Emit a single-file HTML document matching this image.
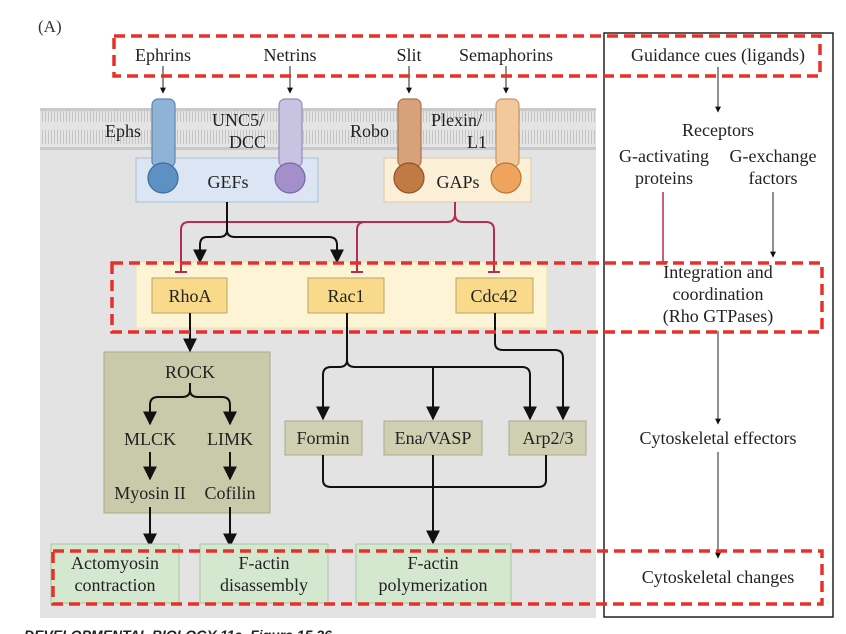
<!DOCTYPE html>
<html><head><meta charset="utf-8"><style>
html,body{margin:0;padding:0;background:#fff;}
svg{display:block;font-family:"Liberation Serif",serif;}
</style></head><body>
<svg width="846" height="634" viewBox="0 0 846 634" xmlns="http://www.w3.org/2000/svg">
<defs>
<pattern id="mem" width="3" height="42" patternUnits="userSpaceOnUse">
<rect width="3" height="42" fill="#e4e4e4"/>
<rect x="0" y="4" width="1" height="14" fill="#c4c4c4"/>
<rect x="0" y="24" width="1" height="14" fill="#c4c4c4"/>
</pattern>
<marker id="ah" viewBox="0 0 10 10" refX="9" refY="5" markerWidth="7" markerHeight="7" orient="auto"><path d="M0,0 L10,5 L0,10 z" fill="#111"/></marker>
<marker id="as" viewBox="0 0 10 10" refX="9" refY="5" markerWidth="6" markerHeight="6" orient="auto"><path d="M0,0 L10,5 L0,10 z" fill="#111"/></marker>
</defs>
<text x="38" y="32" font-size="17" fill="#333">(A)</text>
<rect x="40" y="108" width="556" height="510" fill="#e3e3e3"/>
<rect x="40" y="108" width="556" height="42" fill="url(#mem)"/>
<rect x="40" y="108" width="556" height="3" fill="#c9c9c9"/>
<rect x="40" y="147" width="556" height="3" fill="#c9c9c9"/>
<rect x="136" y="158" width="182" height="44" fill="#dbe5f3" stroke="#a9bfd9"/>
<rect x="384" y="158" width="147" height="44" fill="#fbefd8" stroke="#dcc9a6"/>
<text x="228" y="188" font-size="18" text-anchor="middle" fill="#222">GEFs</text>
<text x="458" y="188" font-size="18" text-anchor="middle" fill="#222">GAPs</text>
<g stroke-width="1.2">
<rect x="152" y="99" width="23" height="68" rx="6" fill="#8fb3d6" stroke="#5f86ad"/>
<circle cx="163" cy="178" r="15" fill="#5e91c3" stroke="#3d6c9c"/>
<rect x="279" y="99" width="23" height="68" rx="6" fill="#c8c3e0" stroke="#928bb8"/>
<circle cx="290" cy="178" r="15" fill="#a48fcb" stroke="#7a66a3"/>
<rect x="398" y="99" width="23" height="68" rx="6" fill="#d7a27a" stroke="#a9734b"/>
<circle cx="409" cy="178" r="15" fill="#c27a45" stroke="#8f5426"/>
<rect x="496" y="99" width="23" height="68" rx="6" fill="#f3c89b" stroke="#c69869"/>
<circle cx="506" cy="178" r="15" fill="#eea45c" stroke="#b87634"/>
</g>
<g font-size="18" fill="#222">
<text x="105" y="137">Ephs</text>
<text x="212" y="126">UNC5/</text>
<text x="229" y="148">DCC</text>
<text x="350" y="137">Robo</text>
<text x="431" y="126">Plexin/</text>
<text x="467" y="148">L1</text>
</g>
<g font-size="18" fill="#222" text-anchor="middle">
<text x="163" y="61">Ephrins</text>
<text x="290" y="61">Netrins</text>
<text x="409" y="61">Slit</text>
<text x="506" y="61">Semaphorins</text>
</g>
<g stroke="#222" stroke-width="1" marker-end="url(#as)">
<line x1="163" y1="66" x2="163" y2="93"/>
<line x1="290" y1="66" x2="290" y2="93"/>
<line x1="409" y1="66" x2="409" y2="93"/>
<line x1="506" y1="66" x2="506" y2="93"/>
</g>
<rect x="136" y="262" width="411" height="66" fill="#fdf4d5" stroke="#ece0b8"/>
<g fill="#f8da8a" stroke="#b9a46a">
<rect x="152" y="278" width="75" height="35"/>
<rect x="308" y="278" width="76" height="35"/>
<rect x="456" y="278" width="77" height="35"/>
</g>
<g font-size="18" fill="#222" text-anchor="middle">
<text x="190" y="302">RhoA</text>
<text x="346" y="302">Rac1</text>
<text x="494" y="302">Cdc42</text>
</g>
<g stroke="#b32e4f" stroke-width="2" fill="none">
<path d="M455,202 L455,214 Q455,222 447,222 L189,222 Q181,222 181,230 L181,272"/>
<path d="M455,214 Q455,222 463,222 L486,222 Q494,222 494,230 L494,272"/>
<path d="M365,222 Q357,222 357,230 L357,272"/>
<line x1="175" y1="272" x2="187" y2="272"/>
<line x1="351" y1="272" x2="363" y2="272"/>
<line x1="488" y1="272" x2="500" y2="272"/>
</g>
<g stroke="#111" stroke-width="2" fill="none">
<path d="M227,202 L227,230 Q227,237 219,237 L207,237 Q200,237 200,245 L200,262" marker-end="url(#ah)"/>
<path d="M227,230 Q227,237 235,237 L329,237 Q337,237 337,245 L337,262" marker-end="url(#ah)"/>
</g>
<rect x="104" y="352" width="166" height="161" fill="#c9caa9" stroke="#a9ab88"/>
<g font-size="18" fill="#222" text-anchor="middle">
<text x="190" y="378">ROCK</text>
<text x="150" y="445">MLCK</text>
<text x="230" y="445">LIMK</text>
<text x="150" y="499">Myosin II</text>
<text x="230" y="499">Cofilin</text>
</g>
<g stroke="#111" stroke-width="2" fill="none">
<path d="M190,313 L190,351" marker-end="url(#ah)"/>
<path d="M190,383 L190,390 Q190,397 182,397 L158,397 Q150,397 150,405 L150,424" marker-end="url(#ah)"/>
<path d="M190,390 Q190,397 198,397 L222,397 Q230,397 230,405 L230,424" marker-end="url(#ah)"/>
<path d="M150,452 L150,479" marker-end="url(#ah)"/>
<path d="M230,452 L230,479" marker-end="url(#ah)"/>
<path d="M150,507 L150,546" marker-end="url(#ah)"/>
<path d="M230,507 L230,546" marker-end="url(#ah)"/>
</g>
<g fill="#cfd0b2" stroke="#a9ab88">
<rect x="285" y="421" width="77" height="34"/>
<rect x="384" y="421" width="98" height="34"/>
<rect x="509" y="421" width="77" height="34"/>
</g>
<g font-size="18" fill="#222" text-anchor="middle">
<text x="323" y="444">Formin</text>
<text x="433" y="444">Ena/VASP</text>
<text x="548" y="444">Arp2/3</text>
</g>
<g stroke="#111" stroke-width="2" fill="none">
<path d="M347,313 L347,360 Q347,367 339,367 L331,367 Q323,367 323,375 L323,419" marker-end="url(#ah)"/>
<path d="M347,360 Q347,367 355,367 L522,367 Q530,367 530,375 L530,419" marker-end="url(#ah)"/>
<path d="M433,367 L433,419" marker-end="url(#ah)"/>
<path d="M495,313 L495,343 Q495,350 503,350 L555,350 Q563,350 563,358 L563,419" marker-end="url(#ah)"/>
<path d="M323,455 L323,480 Q323,487 331,487 L538,487 Q546,487 546,480 L546,455"/>
<path d="M433,455 L433,543" marker-end="url(#ah)"/>
</g>
<g fill="#d4e8cf" stroke="#a9c6a2">
<rect x="51" y="544" width="128" height="59"/>
<rect x="200" y="544" width="128" height="59"/>
<rect x="356" y="544" width="155" height="59"/>
</g>
<g font-size="18" fill="#222" text-anchor="middle">
<text x="115" y="569">Actomyosin</text>
<text x="115" y="591">contraction</text>
<text x="264" y="569">F-actin</text>
<text x="264" y="591">disassembly</text>
<text x="433" y="569">F-actin</text>
<text x="433" y="591">polymerization</text>
</g>
<rect x="604" y="33" width="229" height="584" fill="none" stroke="#222" stroke-width="1.5"/>
<g font-size="18" fill="#222" text-anchor="middle">
<text x="718" y="61">Guidance cues (ligands)</text>
<text x="718" y="136">Receptors</text>
<text x="664" y="162">G-activating</text>
<text x="664" y="184">proteins</text>
<text x="773" y="162">G-exchange</text>
<text x="773" y="184">factors</text>
<text x="718" y="278">Integration and</text>
<text x="718" y="300">coordination</text>
<text x="718" y="322">(Rho GTPases)</text>
<text x="718" y="444">Cytoskeletal effectors</text>
<text x="718" y="583">Cytoskeletal changes</text>
</g>
<g stroke="#222" stroke-width="1" marker-end="url(#as)">
<line x1="718" y1="67" x2="718" y2="112"/>
<line x1="773" y1="192" x2="773" y2="257"/>
<line x1="718" y1="331" x2="718" y2="424"/>
<line x1="718" y1="452" x2="718" y2="558"/>
</g>
<line x1="663" y1="192" x2="663" y2="262" stroke="#b32e4f" stroke-width="1.5"/>
<line x1="658" y1="262" x2="668" y2="262" stroke="#b32e4f" stroke-width="1.5"/>
<g fill="none" stroke="#e8302a" stroke-width="3.5" stroke-dasharray="11,6">
<rect x="114" y="36" width="706" height="40"/>
<rect x="112" y="263" width="710" height="69"/>
<rect x="53" y="551" width="769" height="53"/>
</g>
<text x="24" y="640" font-size="14" font-style="italic" font-weight="bold" fill="#222" font-family="Liberation Sans, sans-serif">DEVELOPMENTAL BIOLOGY 11e, Figure 15.26</text>
</svg>
</body></html>
